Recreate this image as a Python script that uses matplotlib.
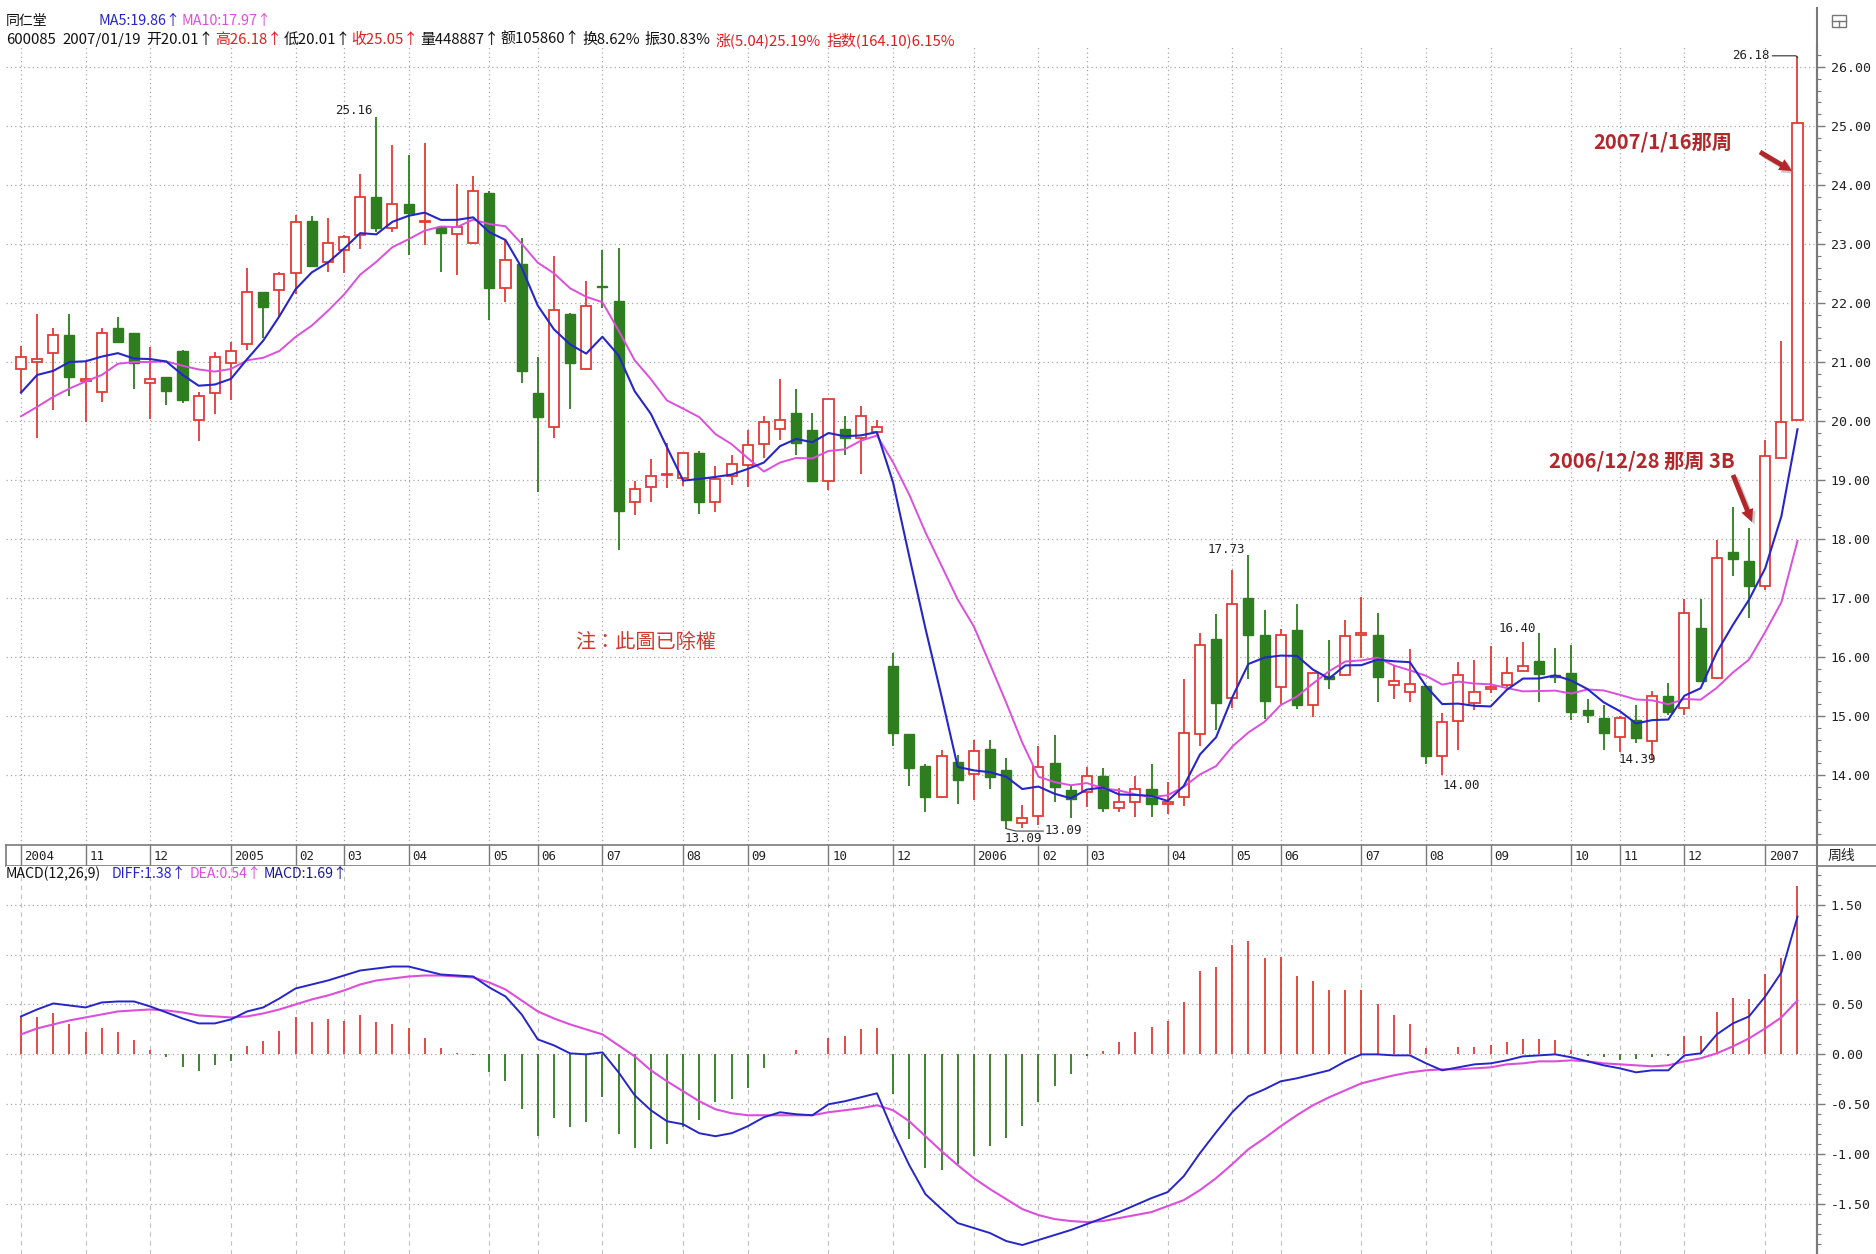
import numpy as np
import pandas as pd
import matplotlib
matplotlib.use("Agg")
import matplotlib.pyplot as plt
from matplotlib.patches import Rectangle
from matplotlib.lines import Line2D
from matplotlib.ticker import MultipleLocator, FormatStrFormatter

plt.rcParams['font.family'] = ['Noto Sans CJK SC', 'DejaVu Sans']
plt.rcParams['axes.unicode_minus'] = False

# ---------------- data (weekly candles, 600085 同仁堂) ----------------
opens = [20.88, 21.00, 21.16, 21.45, 20.68, 20.50, 21.58, 21.49, 20.65, 20.74,
         21.19, 20.02, 20.47, 20.98, 21.31, 22.18, 22.22, 22.51, 23.39, 22.70,
         22.90, 23.15, 23.80, 23.27, 23.68, 23.37, 23.28, 23.17, 23.02, 23.87,
         22.26, 22.66, 20.48, 19.90, 21.82, 20.88, 22.29, 22.04, 18.63, 18.88,
         19.09, 19.03, 19.45, 18.63, 19.06, 19.25, 19.61, 19.86, 20.14, 19.85,
         18.99, 19.86, 19.71, 19.82, 15.84, 14.69, 14.16, 13.62, 14.22, 14.01,
         14.44, 14.08, 13.19, 13.31, 14.20, 13.74, 13.71, 13.99, 13.44, 13.54,
         13.76, 13.51, 13.62, 14.69, 16.31, 15.31, 17.00, 16.38, 15.50, 16.45,
         15.19, 15.68, 15.70, 16.38, 16.38, 15.52, 15.41, 15.50, 14.32, 14.92,
         15.22, 15.46, 15.52, 15.77, 15.93, 15.70, 15.73, 15.10, 14.96, 14.64,
         14.94, 14.58, 15.34, 15.14, 16.50, 15.64, 17.78, 17.62, 17.20, 19.38,
         20.01]
highs = [21.27, 21.82, 21.58, 21.81, 21.00, 21.58, 21.77, 21.50, 21.25, 20.75,
         21.20, 20.50, 21.17, 21.34, 22.60, 22.19, 22.53, 23.49, 23.47, 23.44,
         23.15, 24.19, 25.16, 24.68, 24.51, 24.71, 23.29, 24.02, 24.16, 23.90,
         23.07, 23.10, 21.09, 22.79, 21.83, 22.38, 22.90, 22.93, 18.99, 19.35,
         19.62, 19.46, 19.50, 19.23, 19.42, 19.85, 20.08, 20.72, 20.55, 20.14,
         20.38, 20.08, 20.25, 20.02, 16.06, 14.70, 14.19, 14.42, 14.34, 14.60,
         14.60, 14.28, 13.50, 14.49, 14.67, 13.81, 14.14, 14.12, 13.78, 13.98,
         14.19, 13.88, 15.62, 16.40, 16.73, 17.48, 17.73, 16.80, 16.47, 16.89,
         15.74, 16.28, 16.62, 17.02, 16.75, 15.84, 16.14, 15.51, 15.05, 15.91,
         15.95, 16.19, 16.00, 16.25, 16.40, 16.15, 16.21, 15.28, 15.18, 15.00,
         15.18, 15.43, 15.56, 16.98, 16.98, 17.99, 18.54, 18.18, 19.67, 21.36,
         26.18]
lows = [20.50, 19.71, 20.19, 20.42, 19.99, 20.33, 21.33, 20.54, 20.03, 20.27,
        20.31, 19.66, 20.12, 20.36, 21.21, 21.40, 21.77, 22.16, 22.62, 22.53,
        22.51, 22.91, 23.21, 23.21, 22.81, 22.98, 22.53, 22.47, 23.00, 21.71,
        22.01, 20.64, 18.80, 19.71, 20.20, 20.87, 21.91, 17.82, 18.41, 18.62,
        18.86, 18.89, 18.42, 18.46, 18.92, 18.88, 19.37, 19.68, 19.42, 18.97,
        18.83, 19.42, 19.11, 19.76, 14.50, 13.82, 13.37, 13.61, 13.51, 13.58,
        13.76, 13.09, 13.10, 13.16, 13.54, 13.27, 13.46, 13.38, 13.37, 13.29,
        13.28, 13.34, 13.48, 14.49, 14.77, 15.14, 15.62, 14.95, 15.20, 15.12,
        14.99, 15.46, 15.69, 15.98, 15.23, 15.28, 15.23, 14.19, 14.00, 14.42,
        15.10, 15.39, 15.50, 15.76, 15.23, 15.56, 14.94, 14.88, 14.42, 14.39,
        14.54, 14.26, 15.02, 15.02, 15.58, 15.63, 17.38, 16.66, 17.14, 19.37,
        20.01]
closes = [21.09, 21.05, 21.45, 20.75, 20.72, 21.49, 21.34, 20.99, 20.71, 20.51,
          20.36, 20.42, 21.09, 21.19, 22.18, 21.93, 22.49, 23.37, 22.62, 23.01,
          23.12, 23.80, 23.27, 23.68, 23.52, 23.39, 23.18, 23.28, 23.89, 22.26,
          22.73, 20.84, 20.06, 21.88, 20.98, 21.95, 22.27, 18.48, 18.84, 19.07,
          19.11, 19.45, 18.62, 19.01, 19.27, 19.59, 19.99, 20.01, 19.62, 18.99,
          20.37, 19.72, 20.08, 19.90, 14.71, 14.12, 13.62, 14.32, 13.92, 14.41,
          13.97, 13.24, 13.27, 14.13, 13.80, 13.59, 13.98, 13.44, 13.54, 13.76,
          13.51, 13.55, 14.71, 16.21, 15.22, 16.89, 16.38, 15.25, 16.38, 15.19,
          15.73, 15.63, 16.36, 16.40, 15.66, 15.59, 15.55, 14.32, 14.89, 15.70,
          15.40, 15.50, 15.73, 15.84, 15.71, 15.66, 15.06, 15.01, 14.72, 14.96,
          14.62, 15.34, 15.06, 16.74, 15.59, 17.67, 17.66, 17.20, 19.40, 19.99,
          25.05]
# moving averages for the first weeks (earlier weeks are off-chart)
ma5_head = [20.48, 20.78, 20.85, 21.00]
ma10_head = [20.08, 20.24, 20.41, 20.55, 20.67, 20.78, 20.97, 21.00, 21.00]

diff = [0.38, 0.45, 0.51, 0.49, 0.47, 0.52, 0.53, 0.53, 0.48, 0.42,
        0.36, 0.31, 0.31, 0.35, 0.43, 0.47, 0.56, 0.66, 0.70, 0.74,
        0.79, 0.84, 0.86, 0.88, 0.88, 0.84, 0.80, 0.79, 0.78, 0.67,
        0.58, 0.40, 0.15, 0.09, 0.01, 0.00, 0.02, -0.18, -0.41, -0.56,
        -0.67, -0.70, -0.79, -0.82, -0.79, -0.72, -0.63, -0.58, -0.60, -0.61,
        -0.50, -0.47, -0.43, -0.39, -0.77, -1.11, -1.40, -1.55, -1.69, -1.74,
        -1.79, -1.87, -1.91, -1.86, -1.81, -1.76, -1.70, -1.64, -1.58, -1.51,
        -1.44, -1.38, -1.22, -0.99, -0.78, -0.58, -0.42, -0.35, -0.27, -0.24,
        -0.20, -0.16, -0.07, 0.00, 0.00, -0.01, -0.01, -0.09, -0.16, -0.13,
        -0.10, -0.09, -0.06, -0.02, -0.01, 0.00, -0.03, -0.07, -0.11, -0.14,
        -0.18, -0.16, -0.16, -0.01, 0.01, 0.20, 0.31, 0.38, 0.58, 0.82,
        1.38]
dea = [0.20, 0.26, 0.30, 0.34, 0.37, 0.40, 0.43, 0.44, 0.45, 0.44,
       0.42, 0.39, 0.38, 0.37, 0.38, 0.41, 0.45, 0.50, 0.55, 0.59,
       0.64, 0.70, 0.74, 0.76, 0.78, 0.79, 0.79, 0.78, 0.77, 0.72,
       0.65, 0.54, 0.43, 0.36, 0.30, 0.25, 0.20, 0.09, -0.02, -0.16,
       -0.27, -0.37, -0.47, -0.55, -0.59, -0.61, -0.61, -0.61, -0.61, -0.61,
       -0.58, -0.56, -0.54, -0.51, -0.56, -0.67, -0.82, -0.97, -1.11, -1.24,
       -1.35, -1.45, -1.55, -1.61, -1.65, -1.67, -1.68, -1.67, -1.64, -1.61,
       -1.58, -1.52, -1.46, -1.36, -1.24, -1.10, -0.95, -0.84, -0.72, -0.61,
       -0.51, -0.43, -0.36, -0.29, -0.25, -0.21, -0.18, -0.16, -0.15, -0.15,
       -0.14, -0.13, -0.10, -0.09, -0.07, -0.07, -0.06, -0.07, -0.09, -0.10,
       -0.11, -0.12, -0.11, -0.07, -0.04, 0.01, 0.08, 0.16, 0.26, 0.37,
       0.54]
macd_hist = [0.38, 0.37, 0.41, 0.30, 0.22, 0.26, 0.22, 0.14, 0.04, -0.03,
             -0.13, -0.17, -0.11, -0.07, 0.08, 0.13, 0.23, 0.37, 0.32, 0.35,
             0.33, 0.39, 0.32, 0.30, 0.26, 0.16, 0.06, 0.01, -0.01, -0.18,
             -0.27, -0.55, -0.82, -0.64, -0.73, -0.68, -0.43, -0.80, -0.94, -0.95,
             -0.90, -0.73, -0.66, -0.48, -0.45, -0.34, -0.14, 0.00, 0.04, 0.00,
             0.16, 0.18, 0.25, 0.26, -0.40, -0.85, -1.14, -1.16, -1.10, -1.02,
             -0.92, -0.84, -0.72, -0.48, -0.32, -0.20, -0.02, 0.03, 0.12, 0.22,
             0.27, 0.33, 0.52, 0.84, 0.88, 1.10, 1.14, 0.97, 0.98, 0.79,
             0.73, 0.64, 0.64, 0.64, 0.50, 0.39, 0.30, 0.06, 0.00, 0.07,
             0.07, 0.09, 0.12, 0.15, 0.15, 0.14, 0.04, -0.02, -0.03, -0.06,
             -0.05, -0.03, -0.02, 0.18, 0.18, 0.42, 0.56, 0.55, 0.81, 0.97,
             1.69]

month_labels = ['2004', '11', '12', '2005', '02', '03', '04', '05', '06', '07',
                '08', '09', '10', '12', '2006', '02', '03', '04', '05', '06',
                '07', '08', '09', '10', '11', '12', '2007']
month_index = [0, 4, 8, 13, 17, 20, 24, 29, 32, 36, 41, 45, 50, 54, 59, 63, 66,
               71, 75, 78, 83, 87, 91, 96, 99, 103, 108]
price_ticks = [14, 15, 16, 17, 18, 19, 20, 21, 22, 23, 24, 25, 26]
macd_ticks = [-1.5, -1.0, -0.5, 0.0, 0.5, 1.0, 1.5]

# ---------------- styling ----------------
W, H = 1876, 1254
RED = '#e23b36'
GREEN = '#2e7d1e'
BLUE = '#2626c8'
MAG = '#dc4fdc'
GRID = '#a8a8a8'
AXC = '#7a7a7a'
MONO = 'DejaVu Sans Mono'
CJK = ['Noto Sans CJK SC', 'DejaVu Sans']

fig = plt.figure(figsize=(W / 100, H / 100), dpi=100)
fig.patch.set_facecolor('white')


def fx(x):
    return x / W


def fy(y):
    return 1 - y / H


XL, XR = 6, 1817
xlim = ((XL - 21) / 16.15, (XR - 21) / 16.15)

ax = fig.add_axes([fx(XL), fy(845), fx(XR) - fx(XL), fy(46) - fy(845)])
strip = fig.add_axes([fx(XL), fy(866), fx(XR) - fx(XL), fy(845) - fy(866)])
mx = fig.add_axes([fx(XL), fy(1254), fx(XR) - fx(XL), fy(866) - fy(1254)])

n = len(closes)
x = np.arange(n)

# ---------------- price panel ----------------
ax.set_xlim(*xlim)
ax.set_ylim(26 - (845 - 67) / 59, 26 + (67 - 46) / 59)
for p in price_ticks:
    ax.axhline(p, color=GRID, lw=0.9, ls=(0, (1, 2.5)), zorder=1)
for i in month_index:
    ax.axvline(i, color=GRID, lw=0.9, ls=(0, (1, 2.5)), zorder=1)

w = 0.62
for i, (o, h, l, c) in enumerate(zip(opens, highs, lows, closes)):
    lo, hi = min(o, c), max(o, c)
    hgt = max(hi - lo, 0.012)
    if c >= o:
        ax.vlines(i, hi, h, color=RED, lw=1.3, zorder=3)
        ax.vlines(i, l, lo, color=RED, lw=1.3, zorder=3)
        ax.add_patch(Rectangle((i - w / 2, lo), w, hgt, facecolor='white',
                               edgecolor=RED, lw=1.3, zorder=3))
    else:
        ax.vlines(i, l, h, color=GREEN, lw=1.3, zorder=3)
        ax.add_patch(Rectangle((i - w / 2, lo), w, hgt, facecolor=GREEN,
                               edgecolor=GREEN, lw=1.0, zorder=3))

s = pd.Series(closes, dtype=float)
ma5 = s.rolling(5).mean().to_numpy()
ma5[:len(ma5_head)] = ma5_head
ma10 = s.rolling(10).mean().to_numpy()
ma10[:len(ma10_head)] = ma10_head
ax.plot(x, ma10, color=MAG, lw=1.4, zorder=4)
ax.plot(x, ma5, color=BLUE, lw=1.5, zorder=5)

for sp in ['top', 'left', 'bottom']:
    ax.spines[sp].set_visible(False)
ax.spines['right'].set_color(AXC)
ax.spines['right'].set_linewidth(1.5)
ax.yaxis.tick_right()
ax.set_yticks(price_ticks)
ax.yaxis.set_major_formatter(FormatStrFormatter('%.2f'))
ax.yaxis.set_minor_locator(MultipleLocator(0.2))
ax.tick_params(axis='y', which='major', length=6, width=1, color=AXC, pad=4,
               labelsize=9.5, labelcolor='#222222')
ax.tick_params(axis='y', which='minor', length=3, width=0.8, color=AXC)
for t in ax.get_yticklabels():
    t.set_family(MONO)
ax.set_xticks([])

# high / low labels
lab_kw = dict(fontsize=9, family=MONO, color='#222222', zorder=6)
ax.text(21.8, 25.27, '25.16', ha='right', va='center', **lab_kw)
ax.text(75.8, 17.83, '17.73', ha='right', va='center', **lab_kw)
ax.text(93.8, 16.49, '16.40', ha='right', va='center', **lab_kw)
ax.text(88.0, 13.83, '14.00', ha='left', va='center', **lab_kw)
ax.text(98.9, 14.27, '14.39', ha='left', va='center', **lab_kw)
ax.text(60.9, 12.93, '13.09', ha='left', va='center', **lab_kw)
ax.text(63.4, 13.06, '13.09', ha='left', va='center', **lab_kw)
ax.plot([61.0, 61.6, 63.3], [13.09, 13.05, 13.05], color='#444444', lw=0.8, zorder=6)
ax.text(108.3, 26.20, '26.18', ha='right', va='center', **lab_kw)
ax.plot([108.45, 109.9, 110.0], [26.19, 26.19, 26.16], color='#444444', lw=0.9, zorder=6)

# annotations
ann_red = '#b3262a'
fig.text(fx(646), fy(642), '注：此圖已除權', color='#cc3a30', fontsize=14.5,
         fontweight='medium', family=['Noto Sans CJK TC', 'DejaVu Sans'],
         ha='center', va='center')
fig.text(fx(1663), fy(142), '2007/1/16那周', color=ann_red, fontsize=14.5,
         fontweight='bold', family=CJK, ha='center', va='center')
fig.text(fx(1642), fy(461), '2006/12/28 那周 3B', color=ann_red, fontsize=14.5,
         fontweight='bold', family=CJK, ha='center', va='center')


def arrow(x1, y1, x2, y2):
    for dx, dy, col, al in [(2.5, -2.5, '#888888', 0.45), (0, 0, ann_red, 1.0)]:
        ax.annotate('', xy=(x2 + dx, H - y2 + dy), xytext=(x1 + dx, H - y1 + dy),
                    xycoords='figure pixels', textcoords='figure pixels',
                    annotation_clip=False,
                    arrowprops=dict(arrowstyle='simple,head_length=0.9,head_width=0.9,tail_width=0.35',
                                    color=col, alpha=al, lw=0, shrinkA=0, shrinkB=0))


arrow(1760, 152, 1792, 171)
arrow(1733, 475, 1752, 522)

# ---------------- date strip ----------------
strip.set_xlim(*xlim)
strip.set_ylim(0, 1)
strip.set_xticks([])
strip.set_yticks([])
for sp in strip.spines.values():
    sp.set_color(AXC)
    sp.set_linewidth(1.2)
for i, lab in zip(month_index, month_labels):
    strip.axvline(i, color=AXC, lw=1.0)
    strip.text(i + 0.22, 0.45, lab, ha='left', va='center', fontsize=9,
               family=MONO, color='#222222')

# ---------------- MACD panel ----------------
mx.set_xlim(*xlim)
mx.set_ylim(-2.0, 1.887)
for v in macd_ticks:
    mx.axhline(v, color=GRID, lw=0.9, ls=(0, (1, 2.5)), zorder=1)
for i in month_index:
    mx.axvline(i, color='#c0c0c0', lw=0.8, ls=(0, (4, 4)), zorder=1)
hist = np.array(macd_hist)
cols = [RED if v > 0 else GREEN for v in hist]
mx.vlines(x, 0, hist, colors=cols, lw=1.3, zorder=2)
mx.plot(x, dea, color=MAG, lw=1.5, zorder=3)
mx.plot(x, diff, color=BLUE, lw=1.4, zorder=4)
for sp in ['top', 'left', 'bottom']:
    mx.spines[sp].set_visible(False)
mx.spines['right'].set_color(AXC)
mx.spines['right'].set_linewidth(1.5)
mx.yaxis.tick_right()
mx.set_yticks(macd_ticks)
mx.yaxis.set_major_formatter(FormatStrFormatter('%.2f'))
mx.yaxis.set_minor_locator(MultipleLocator(0.1))
mx.tick_params(axis='y', which='major', length=6, width=1, color=AXC, pad=4,
               labelsize=9.5, labelcolor='#222222')
mx.tick_params(axis='y', which='minor', length=3, width=0.8, color=AXC)
for t in mx.get_yticklabels():
    t.set_family(MONO)
mx.set_xticks([])

# ---------------- frame lines / corner items ----------------
fig.add_artist(Line2D([fx(XR), fx(XR)], [fy(8), fy(1254)], color=AXC, lw=1.5,
                      transform=fig.transFigure))
for yy in (845, 866):
    fig.add_artist(Line2D([fx(XR), fx(1876)], [fy(yy), fy(yy)], color=AXC, lw=1.2,
                          transform=fig.transFigure))
fig.text(fx(1828), fy(856), '周线', fontsize=10, family=CJK, color='#222222',
         ha='left', va='center')
fig.add_artist(Rectangle((fx(1832), fy(27)), fx(14), 12 / H, fill=False,
                         edgecolor='#777777', lw=1.0, transform=fig.transFigure))
fig.add_artist(Line2D([fx(1832), fx(1846)], [fy(21), fy(21)], color='#777777', lw=1.0,
                      transform=fig.transFigure))
fig.add_artist(Line2D([fx(1839), fx(1839)], [fy(21), fy(27)], color='#777777', lw=1.0,
                      transform=fig.transFigure))

# ---------------- header texts ----------------
renderer = fig.canvas.get_renderer()


def seq_text(pieces, x0, x1, y, fs0=9.0, family=CJK):
    widths = []
    for s_, c_, g_ in pieces:
        t = fig.text(0, 0, s_, fontsize=fs0, family=family)
        widths.append(t.get_window_extent(renderer).width)
        t.remove()
    gaps = sum(g for _, _, g in pieces[:-1])
    ratio = (x1 - x0 - gaps) / sum(widths)
    fs = fs0 * ratio
    xx = x0
    for (s_, c_, g_), wd in zip(pieces, widths):
        fig.text(fx(xx), fy(y), s_, fontsize=fs, family=family, color=c_,
                 ha='left', va='center')
        xx += wd * ratio + g_


K = '#111111'
HR = '#e01e1e'
fig.text(fx(6), fy(21), '同仁堂', fontsize=10, family=CJK, color=K, ha='left', va='center')
seq_text([('MA5:19.86↑', BLUE, 1), ('MA10:17.97↑', MAG, 0)], 98, 272, 21)
seq_text([('600085', K, 6), ('2007/01/19', K, 6), ('开20.01↑', K, 1),
          ('高26.18↑', HR, 1), ('低20.01↑', K, 1), ('收25.05↑', HR, 1),
          ('量448887↑', K, 1), ('额105860↑', K, 1), ('换8.62%', K, 5),
          ('振30.83%', K, 5), ('涨(5.04)25.19%', HR, 5),
          ('指数(164.10)6.15%', HR, 0)], 6, 955, 40)
seq_text([('MACD(12,26,9)', K, 10), ('DIFF:1.38↑', BLUE, 2),
          ('DEA:0.54↑', MAG, 2), ('MACD:1.69↑', '#1a1a90', 0)], 6, 348, 874)

fig.savefig('out.png', dpi=100, facecolor='white')
